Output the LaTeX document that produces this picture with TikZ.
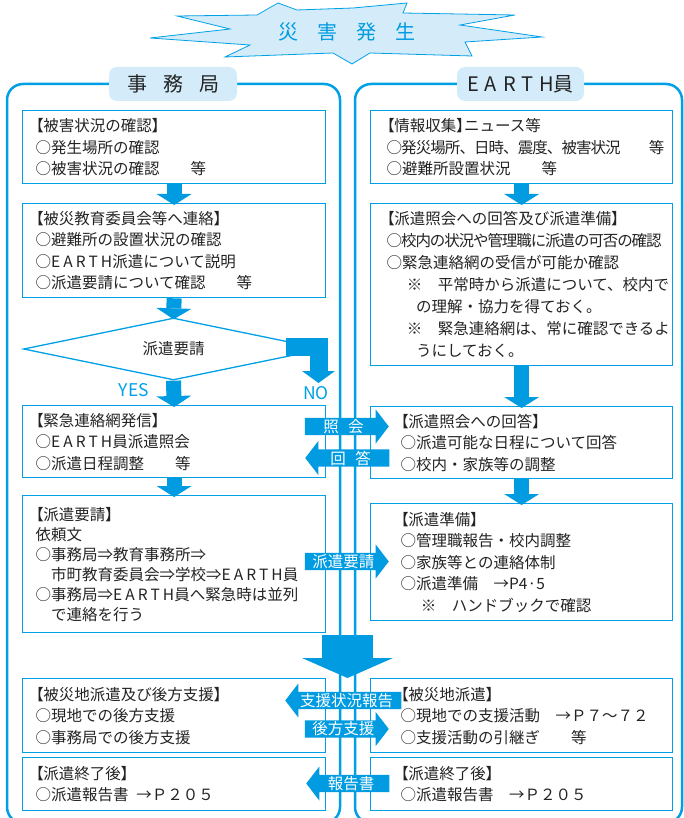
\documentclass[tikz,border=0pt]{standalone}
\usepackage{fontspec}
\setmainfont{Noto Sans CJK JP}
\newfontfamily\paltfont{Noto Sans CJK JP}[RawFeature=+palt]
\usetikzlibrary{positioning,calc,shapes.geometric,shapes.arrows,arrows.meta}
\definecolor{lineblue}{RGB}{0,160,230}
\definecolor{fillblue}{RGB}{0,155,225}
\definecolor{paleblue}{RGB}{212,236,250}
\definecolor{ink}{RGB}{35,35,35}
\newcommand\lbk{{\paltfont【}}
\newcommand\rbk{{\paltfont】}}
\newcommand\earth{{\addfontfeatures{LetterSpace=20}EARTH}}
\begin{document}
\begin{tikzpicture}[x=1pt,y=-1pt,
	frame/.style={draw=lineblue, line width=2.5pt, rounded corners=16pt},
	header/.style={fill=paleblue, rounded corners=8pt, minimum width=128pt, minimum height=34pt, inner sep=0pt, text=ink, font=\fontsize{20}{24}\selectfont},
	box/.style={draw=lineblue, line width=1.3pt, anchor=north west, align=left, inner ysep=0pt, text=ink, font=\fontsize{15.5}{21.5}\selectfont},
	lbox/.style={box, text width=277pt, inner xsep=13pt},
	rbox/.style={box, text width=270pt, inner xsep=16pt},
	rboxw/.style={box, text width=242pt, inner xsep=30pt},
	colarrow/.style={draw=fillblue, line width=15pt, -{Triangle[width=35pt,length=11pt,line width=0pt]}},
	sidearrow/.style={single arrow, fill=fillblue, text=white, minimum width=34pt, single arrow head extend=8pt, single arrow tip angle=105, inner sep=1pt, font=\fontsize{15.5}{16}\selectfont},
	yesno/.style={text=lineblue, inner sep=0pt, font=\fontsize{17.5}{18}\selectfont}]
	\useasboundingbox (0,0) rectangle (684,818);

	% two columns
	\draw[frame] (7,84) rectangle (340,823);
	\draw[frame] (355,84) rectangle (682,823);
	\node[header] (jimu) at (173,84) {事\kern0.8em 務\kern0.8em 局};
	\node[header, minimum width=127pt] (earth) at (520.5,84) {{\addfontfeatures{LetterSpace=30}EARTH}員};

	% burst
	\draw[fill=paleblue, draw=lineblue, line width=0.8pt] (177,16) -- (257,15) -- (278,3) -- (297,10)
		-- (353,8) -- (407,3) -- (403,13) -- (515,15) -- (460,25) -- (542,37) -- (465,42)
		-- (472,56) -- (370,53) -- (352,64) -- (333,53) -- (225,57) -- (250,45) -- (150,38)
		-- (230,29) -- cycle;
	\node[text=fillblue, font=\fontsize{20}{24}\selectfont] (title) at (347,32) {災\kern0.95em 害\kern0.95em 発\kern0.95em 生};

	% left column
	\node[lbox, minimum height=73pt] (l1) at (22,110) {\lbk 被害状況の確認\rbk\\○発生場所の確認\\○被害状況の確認　　等};
	\node[lbox, minimum height=94pt] (l2) at (22,203) {\lbk 被災教育委員会等へ連絡\rbk\\○避難所の設置状況の確認\\○\earth 派遣について説明\\○派遣要請について確認　　等};
	\node[diamond, aspect=4.8, minimum width=300pt, minimum height=62pt, inner sep=0pt, draw=lineblue, line width=1.3pt, text=ink, font=\fontsize{15.5}{16}\selectfont] (dia) at (173.5,349) {派遣要請};
	\node[lbox, minimum height=72pt] (l3) at (22,405) {\lbk 緊急連絡網発信\rbk\\○\earth 員派遣照会\\○派遣日程調整　　等};
	\node[lbox, minimum height=137pt, font=\fontsize{15.5}{20}\selectfont] (l4) at (22,495) {\lbk 派遣要請\rbk\\依頼文\\○事務局⇒教育事務所⇒\\\hspace*{1em}市町教育委員会⇒学校⇒\earth 員\\○事務局⇒\earth 員へ緊急時は並列\\\hspace*{1em}で連絡を行う};
	\node[lbox, minimum height=74pt] (l5) at (22,678) {\lbk 被災地派遣及び後方支援\rbk\\○現地での後方支援\\○事務局での後方支援};
	\node[lbox, minimum height=53pt] (l6) at (22,757) {\lbk 派遣終了後\rbk\\○派遣報告書\kern0.5em→Ｐ２０５};

	% right column
	\node[rbox, minimum height=73pt] (r1) at (370,110) {\lbk 情報収集\rbk ニュース等\\{\addfontfeatures{LetterSpace=-6}○発災場所、日時、震度、被害状況　　等}\\○避難所設置状況　　等};
	\node[rbox, minimum height=162pt, font=\fontsize{15.5}{22}\selectfont] (r2) at (370,203) {\lbk 派遣照会への回答及び派遣準備\rbk\\{\addfontfeatures{LetterSpace=-7}○校内の状況や管理職に派遣の可否の確認}\\○緊急連絡網の受信が可能か確認\\\hspace*{1.3em}※\kern1em 平常時から派遣について、校内で\\\hspace*{1.9em}の理解・協力を得ておく。\\\hspace*{1.3em}※\kern1em 緊急連絡網は、常に確認できるよ\\\hspace*{1.9em}うにしておく。};
	\node[rboxw, minimum height=72pt] (r3) at (370,406) {\lbk 派遣照会への回答\rbk\\○派遣可能な日程について回答\\○校内・家族等の調整};
	\node[rboxw, minimum height=117pt] (r4) at (370,503) {\lbk 派遣準備\rbk\\○管理職報告・校内調整\\○家族等との連絡体制\\○派遣準備　→P4·5\\\hspace*{1.3em}※\kern1em ハンドブックで確認};
	\node[rboxw, minimum height=74pt] (r5) at (370,678) {\lbk 被災地派遣\rbk\\○現地での支援活動　→Ｐ７～７２\\○支援活動の引継ぎ　　等};
	\node[rboxw, minimum height=53pt] (r6) at (370,757) {\lbk 派遣終了後\rbk\\○派遣報告書　→Ｐ２０５};

	% down arrows
	\draw[colarrow] (l1.south) -- ($(l2.north)+(0,2)$);
	\draw[colarrow] (l2.south) -- ($(dia.north)+(0,2)$);
	\draw[colarrow] (dia.south) -- ($(l3.north)+(0,2)$);
	\draw[colarrow] (l3.south) -- ($(l4.north)+(0,2)$);
	\draw[colarrow] (r1.south) -- ($(r2.north)+(0,2)$);
	\draw[colarrow] (r2.south) -- ($(r3.north)+(0,2)$);
	\draw[colarrow] (r3.south) -- ($(r4.north)+(0,2)$);
	\node[yesno] (yes) at (134,390) {YES};
	\node[yesno] (no) at (316,393) {NO};
	\coordinate (noend) at (318.5,383);
	\draw[draw=fillblue, line width=18pt, -{Triangle[width=33pt,length=12pt,line width=0pt]}] ($(dia.east)+(-38,-2)$) -| (noend);

	% arrows between the columns
	\node[sidearrow, anchor=tip, minimum height=84pt] (shokai) at (389,426.5) {照\kern0.6em 会};
	\node[sidearrow, anchor=tip, minimum height=84pt, shape border rotate=180] (kaito) at (305,458) {回\kern0.6em 答};
	\node[sidearrow, anchor=tip, minimum height=84pt] (yousei) at (389,561.5) {派遣要請};
	\coordinate (merge) at (347.5,635);
	\draw[draw=fillblue, line width=51pt, -{Triangle[width=91pt,length=20pt,line width=0pt]}] (merge) -- (merge |- l5.north);
	\node[sidearrow, anchor=tip, minimum height=116pt, shape border rotate=180] (jokyo) at (285,700.5) {支援状況報告};
	\node[sidearrow, anchor=tip, minimum height=84pt] (koho) at (389,729) {後方支援};
	\node[sidearrow, anchor=tip, minimum height=83pt, shape border rotate=180] (hokoku) at (306,783.5) {報告書};
\end{tikzpicture}
\end{document}
